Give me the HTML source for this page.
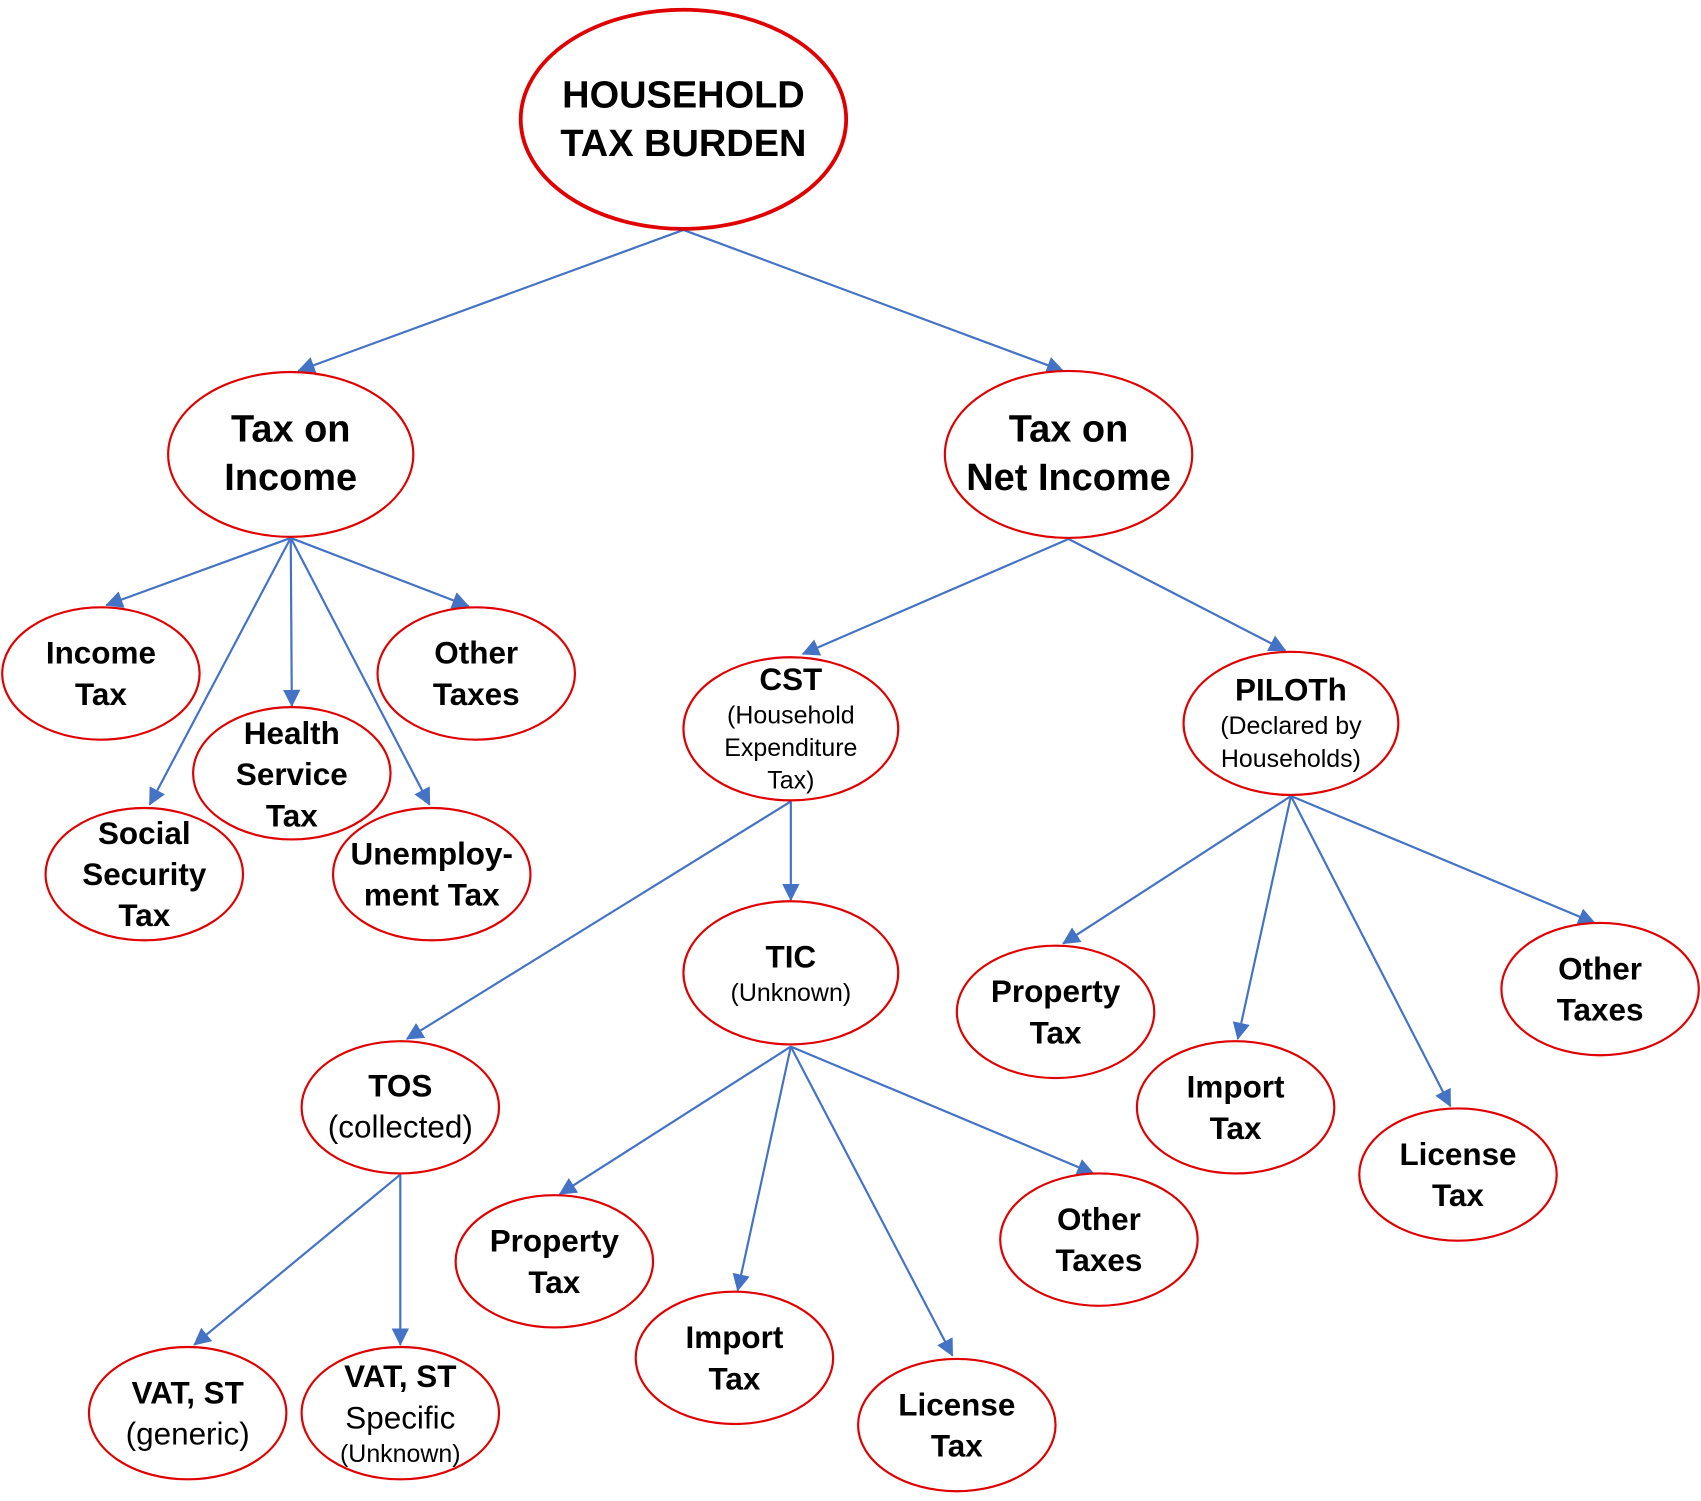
<!DOCTYPE html>
<html><head><meta charset="utf-8"><style>
html,body{margin:0;padding:0;background:#fff;}
svg{display:block;}
text{font-family:"Liberation Sans",Arial,sans-serif;fill:#000;text-anchor:middle;}
.b{font-weight:bold;}
</style></head><body>
<svg width="1701" height="1501" viewBox="0 0 1568 1384" preserveAspectRatio="none" xmlns="http://www.w3.org/2000/svg">
<defs>
<marker id="a" viewBox="0 0 16 16" refX="15" refY="8" markerWidth="16" markerHeight="16" markerUnits="userSpaceOnUse" orient="auto">
<path d="M0,0 L16,8 L0,16 z" fill="#4472C4"/>
</marker>
</defs>
<g stroke="#4472C4" stroke-width="2" fill="none" marker-end="url(#a)">
<line x1="630" y1="212" x2="275" y2="342"/>
<line x1="630" y1="212" x2="980" y2="342"/>
<line x1="268" y1="496" x2="98" y2="558"/>
<line x1="268" y1="496" x2="269" y2="651"/>
<line x1="268" y1="496" x2="432" y2="559"/>
<line x1="268" y1="496" x2="138" y2="742"/>
<line x1="268" y1="496" x2="396" y2="742"/>
<line x1="985" y1="497" x2="740" y2="603"/>
<line x1="985" y1="497" x2="1185" y2="600"/>
<line x1="729" y1="739" x2="729" y2="830"/>
<line x1="729" y1="739" x2="375" y2="958"/>
<line x1="1190" y1="734" x2="980" y2="870"/>
<line x1="1190" y1="734" x2="1141" y2="958"/>
<line x1="1190" y1="734" x2="1337" y2="1020"/>
<line x1="1190" y1="734" x2="1470" y2="851"/>
<line x1="729" y1="965" x2="516" y2="1101"/>
<line x1="729" y1="965" x2="680" y2="1190"/>
<line x1="729" y1="965" x2="878" y2="1250"/>
<line x1="729" y1="965" x2="1008" y2="1082"/>
<line x1="369" y1="1083" x2="179" y2="1240"/>
<line x1="369" y1="1083" x2="369" y2="1240"/>
</g>
<g stroke="#E00000" stroke-width="2" fill="none">
<ellipse cx="630" cy="110" rx="150" ry="101" stroke-width="3.5"/>
<ellipse cx="268" cy="419" rx="113" ry="76"/>
<ellipse cx="985" cy="419" rx="114" ry="77"/>
<ellipse cx="93" cy="621" rx="91" ry="61"/>
<ellipse cx="439" cy="621" rx="91" ry="61"/>
<ellipse cx="269" cy="713" rx="91" ry="61"/>
<ellipse cx="133" cy="806" rx="91" ry="61"/>
<ellipse cx="398" cy="806" rx="91" ry="61"/>
<ellipse cx="729" cy="672" rx="99" ry="66"/>
<ellipse cx="1190" cy="667" rx="99" ry="66"/>
<ellipse cx="729" cy="897" rx="99" ry="66"/>
<ellipse cx="973" cy="933" rx="91" ry="61"/>
<ellipse cx="1139" cy="1021" rx="91" ry="61"/>
<ellipse cx="1344" cy="1083" rx="91" ry="61"/>
<ellipse cx="1475" cy="912" rx="91" ry="61"/>
<ellipse cx="369" cy="1021" rx="91" ry="61"/>
<ellipse cx="511" cy="1163" rx="91" ry="61"/>
<ellipse cx="677" cy="1252" rx="91" ry="61"/>
<ellipse cx="882" cy="1314" rx="91" ry="61"/>
<ellipse cx="1013" cy="1143" rx="91" ry="61"/>
<ellipse cx="173" cy="1303" rx="91" ry="61"/>
<ellipse cx="369" cy="1303" rx="91" ry="61"/>
</g>
<g class="b" font-size="35">
<text x="630" y="99" class="b">HOUSEHOLD</text>
<text x="630" y="144" class="b">TAX BURDEN</text>
<text x="268" y="407" class="b">Tax on</text>
<text x="268" y="452" class="b">Income</text>
<text x="985" y="407" class="b">Tax on</text>
<text x="985" y="452" class="b">Net Income</text>
</g>
<g font-size="29">
<text class="b" x="93" y="612">Income</text><text class="b" x="93" y="650">Tax</text>
<text class="b" x="439" y="612">Other</text><text class="b" x="439" y="650">Taxes</text>
<text class="b" x="269" y="686">Health</text><text class="b" x="269" y="724">Service</text><text class="b" x="269" y="762">Tax</text>
<text class="b" x="133" y="778">Social</text><text class="b" x="133" y="816">Security</text><text class="b" x="133" y="854">Tax</text>
<text class="b" x="398" y="797">Unemploy-</text><text class="b" x="398" y="835">ment Tax</text>
<text class="b" x="729" y="636">CST</text>
<text class="b" x="1190" y="646">PILOTh</text>
<text class="b" x="729" y="892">TIC</text>
<text class="b" x="973" y="924">Property</text><text class="b" x="973" y="962">Tax</text>
<text class="b" x="1139" y="1012">Import</text><text class="b" x="1139" y="1050">Tax</text>
<text class="b" x="1344" y="1074">License</text><text class="b" x="1344" y="1112">Tax</text>
<text class="b" x="1475" y="903">Other</text><text class="b" x="1475" y="941">Taxes</text>
<text class="b" x="369" y="1011">TOS</text><text x="369" y="1049">(collected)</text>
<text class="b" x="511" y="1154">Property</text><text class="b" x="511" y="1192">Tax</text>
<text class="b" x="677" y="1243">Import</text><text class="b" x="677" y="1281">Tax</text>
<text class="b" x="882" y="1305">License</text><text class="b" x="882" y="1343">Tax</text>
<text class="b" x="1013" y="1134">Other</text><text class="b" x="1013" y="1172">Taxes</text>
<text class="b" x="173" y="1294">VAT, ST</text><text x="173" y="1332">(generic)</text>
<text class="b" x="369" y="1279">VAT, ST</text><text x="369" y="1317">Specific</text>
</g>
<g font-size="23">
<text x="729" y="667">(Household</text><text x="729" y="697">Expenditure</text><text x="729" y="727">Tax)</text>
<text x="1190" y="677">(Declared by</text><text x="1190" y="707">Households)</text>
<text x="729" y="923">(Unknown)</text>
<text x="369" y="1348">(Unknown)</text>
</g>
</svg>
</body></html>
